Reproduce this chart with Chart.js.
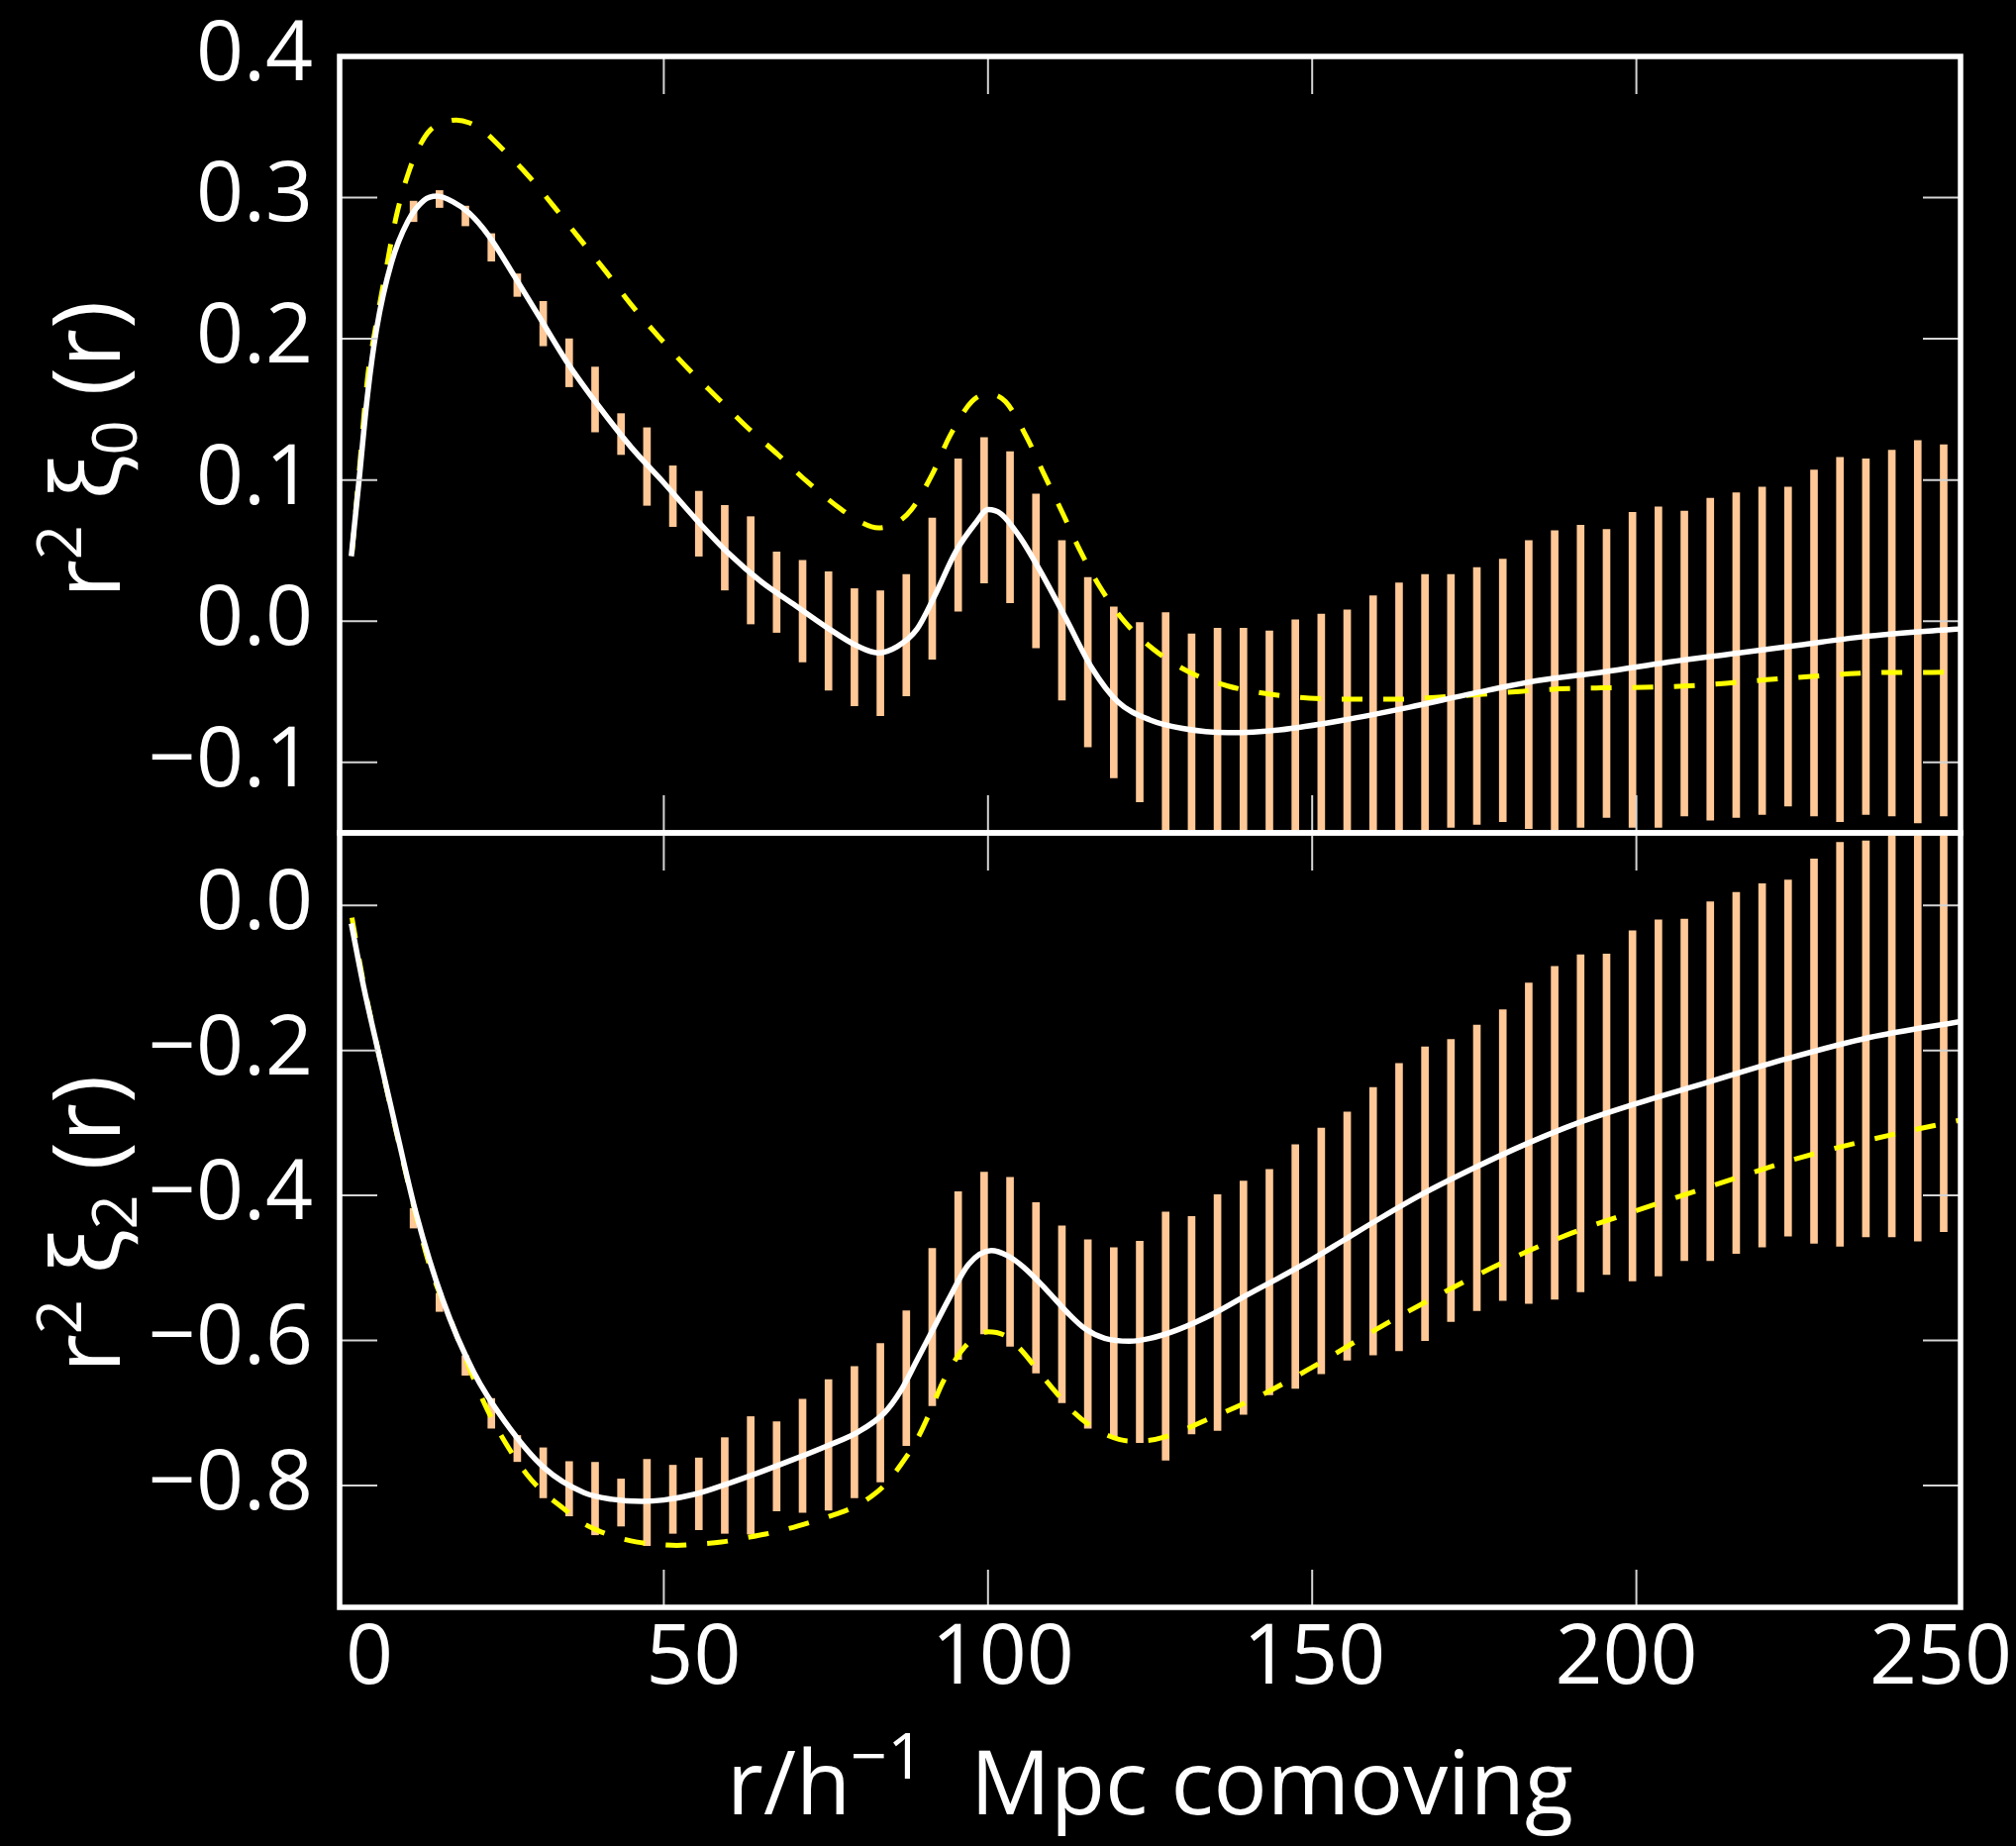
<!DOCTYPE html>
<html>
<head>
<meta charset="utf-8">
<title>r^2 xi_0 and r^2 xi_2</title>
<script src="https://cdn.jsdelivr.net/npm/chart.js@4.4.1/dist/chart.umd.min.js"></script>
<style>
  html, body { margin: 0; padding: 0; background: #000; }
  body { width: 2036px; height: 1864px; position: relative; overflow: hidden; }
  canvas { position: absolute; left: 0; }
  #topPanel { top: 0; }
  #bottomPanel { top: 800px; }
</style>
</head>
<body>
<canvas id="topPanel" width="2036" height="880"></canvas>
<canvas id="bottomPanel" width="2036" height="1064"></canvas>
<script>
// bin centres of the measured points, h^-1 Mpc
const binR = [11.4, 15.4, 19.4, 23.4, 27.4, 31.4, 35.4, 39.4, 43.4, 47.4,
  51.4, 55.4, 59.4, 63.4, 67.4, 71.4, 75.4, 79.4, 83.4, 87.4,
  91.4, 95.4, 99.4, 103.4, 107.4, 111.4, 115.4, 119.4, 123.4, 127.4,
  131.4, 135.4, 139.4, 143.4, 147.4, 151.4, 155.4, 159.4, 163.4, 167.4,
  171.4, 175.4, 179.4, 183.4, 187.4, 191.4, 195.4, 199.4, 203.4, 207.4,
  211.4, 215.4, 219.4, 223.4, 227.4, 231.4, 235.4, 239.4, 243.4, 247.4];

// monopole error bars (low / high end)
const xi0Low = [0.283, 0.293, 0.280, 0.255, 0.230, 0.195, 0.166, 0.134, 0.118, 0.082,
  0.067, 0.046, 0.022, -0.002, -0.008, -0.029, -0.049, -0.060, -0.067, -0.053,
  -0.027, 0.007, 0.027, 0.013, -0.019, -0.056, -0.089, -0.111, -0.128, -0.158,
  -0.148, -0.156, -0.157, -0.149, -0.156, -0.158, -0.149, -0.155, -0.156, -0.152,
  -0.146, -0.144, -0.142, -0.147, -0.148, -0.146, -0.139, -0.146, -0.146, -0.138,
  -0.141, -0.139, -0.137, -0.131, -0.138, -0.142, -0.137, -0.138, -0.143, -0.138];
const xi0High = [0.2975, 0.305, 0.294, 0.2745, 0.246, 0.2265, 0.200, 0.180, 0.147, 0.137,
  0.110, 0.092, 0.082, 0.074, 0.049, 0.043, 0.035, 0.023, 0.0215, 0.033,
  0.073, 0.115, 0.130, 0.120, 0.090, 0.057, 0.031, 0.010, -0.001, 0.006,
  -0.009, -0.005, -0.005, -0.007, 0.001, 0.005, 0.008, 0.018, 0.027, 0.033,
  0.033, 0.038, 0.044, 0.057, 0.064, 0.068, 0.065, 0.077, 0.081, 0.078,
  0.087, 0.091, 0.095, 0.095, 0.107, 0.116, 0.115, 0.121, 0.128, 0.125];

// quadrupole error bars
const xi2Low = [-0.445, -0.560, -0.648, -0.721, -0.767, -0.817, -0.842, -0.868, -0.856, -0.883,
  -0.866, -0.861, -0.866, -0.867, -0.835, -0.837, -0.834, -0.817, -0.795, -0.745,
  -0.690, -0.626, -0.591, -0.608, -0.645, -0.686, -0.721, -0.733, -0.741, -0.765,
  -0.729, -0.724, -0.702, -0.675, -0.666, -0.646, -0.627, -0.620, -0.614, -0.600,
  -0.574, -0.559, -0.545, -0.549, -0.543, -0.533, -0.509, -0.518, -0.511, -0.490,
  -0.490, -0.480, -0.471, -0.456, -0.466, -0.470, -0.457, -0.457, -0.463, -0.450];
const xi2High = [-0.418, -0.535, -0.621, -0.680, -0.731, -0.748, -0.767, -0.768, -0.791, -0.764,
  -0.772, -0.762, -0.734, -0.705, -0.712, -0.681, -0.654, -0.636, -0.604, -0.559,
  -0.473, -0.395, -0.368, -0.375, -0.410, -0.442, -0.461, -0.472, -0.463, -0.423,
  -0.429, -0.399, -0.380, -0.364, -0.330, -0.307, -0.285, -0.251, -0.218, -0.195,
  -0.185, -0.165, -0.144, -0.107, -0.084, -0.068, -0.067, -0.035, -0.020, -0.019,
  0.005, 0.018, 0.030, 0.035, 0.064, 0.087, 0.089, 0.110, 0.120, 0.125];

// white solid model, monopole
const fitR0 = [1.8, 3, 4.3, 5.7, 8, 10.5, 13, 15, 17.5, 20,
  23, 27, 31, 35, 40, 45, 50, 55, 60, 65,
  70, 75, 80, 83, 86, 89, 92, 95, 98, 100,
  102, 105, 108, 112, 116, 120, 125, 130, 137, 145,
  155, 165, 175, 185, 195, 205, 215, 225, 235, 245, 250];
const fit0 = [0.046, 0.10, 0.160, 0.207, 0.254, 0.283, 0.298, 0.301, 0.297, 0.289,
  0.273, 0.244, 0.214, 0.184, 0.152, 0.123, 0.098, 0.072, 0.048, 0.028,
  0.012, -0.004, -0.018, -0.0225, -0.018, -0.006, 0.020, 0.049, 0.069, 0.079,
  0.076, 0.059, 0.036, 0.002, -0.033, -0.057, -0.070, -0.076, -0.079, -0.077,
  -0.070, -0.061, -0.051, -0.042, -0.036, -0.029, -0.023, -0.017, -0.011, -0.007, -0.0055];

// yellow dashed model, monopole
const altR0 = [1.9, 3, 4.3, 5.5, 7, 8.8, 10.8, 12.5, 14, 16,
  18, 20, 22.5, 25, 29, 33, 37, 41, 45, 49.4,
  53.7, 58.3, 62.7, 67.6, 72.3, 77.4, 80, 83.1, 86, 88.2,
  91.4, 94.1, 97.5, 100, 102.7, 106, 108.7, 111.5, 114.2, 117.3,
  121, 125.4, 131, 137, 143.3, 149.6, 156.2, 162.9, 169, 175.6,
  182, 188.2, 194.6, 201, 207.3, 213.8, 220.1, 226.5, 232.9, 239.3, 245.6, 249];
const alt0 = [0.048, 0.105, 0.172, 0.207, 0.245, 0.288, 0.320, 0.338, 0.348, 0.353,
  0.355, 0.353, 0.346, 0.335, 0.316, 0.294, 0.271, 0.248, 0.224, 0.2005,
  0.179, 0.158, 0.138, 0.118, 0.098, 0.079, 0.071, 0.066, 0.070, 0.079,
  0.104, 0.131, 0.1555, 0.161, 0.1555, 0.130, 0.1035, 0.0766, 0.050, 0.024,
  0.000, -0.0195, -0.036, -0.046, -0.0516, -0.0546, -0.0553, -0.0553, -0.054, -0.052,
  -0.0498, -0.048, -0.0473, -0.0469, -0.046, -0.044, -0.0415, -0.0394, -0.0373, -0.0363, -0.0363, -0.0362];

// white solid model, quadrupole
const fitR2 = [1.8, 3.7, 6, 8.8, 11.8, 15.9, 20.7, 25.5, 31.6, 37.7,
  42, 46.6, 50, 54.8, 60, 65, 70, 75, 80, 84,
  86.5, 89, 91.5, 94, 97, 100.5, 103, 105.5, 109, 112.3,
  115, 118, 121.8, 125, 129.3, 135, 140, 145, 150, 155,
  160, 167, 175, 183, 191, 199, 211, 223, 236, 250];
const fit2 = [-0.025, -0.112, -0.203, -0.312, -0.425, -0.544, -0.644, -0.712, -0.776, -0.810,
  -0.819, -0.822, -0.820, -0.812, -0.797, -0.781, -0.764, -0.746, -0.726, -0.700,
  -0.670, -0.628, -0.585, -0.542, -0.495, -0.476, -0.483, -0.499, -0.530, -0.562,
  -0.584, -0.597, -0.601, -0.597, -0.585, -0.562, -0.537, -0.513, -0.488, -0.461,
  -0.434, -0.398, -0.362, -0.329, -0.300, -0.276, -0.244, -0.212, -0.182, -0.160];

// yellow dashed model, quadrupole
const altR2 = [1.9, 3.7, 6, 8.8, 11.8, 14, 17.3, 20, 22.7, 25.5,
  28.9, 31.5, 34.3, 37, 39.8, 43, 45.9, 49, 52, 55,
  58.9, 62, 65.7, 69, 72.5, 76, 79.3, 82, 84.1, 86.5,
  88.9, 91, 93, 96.5, 100, 103, 105.5, 108, 110.9, 113,
  115.7, 118.5, 121.8, 124.5, 127.3, 134.1, 141.6, 149.8, 160, 170,
  180, 190, 200, 214, 226, 239, 250];
const alt2 = [-0.017, -0.108, -0.203, -0.315, -0.428, -0.500, -0.576, -0.638, -0.694, -0.740,
  -0.785, -0.810, -0.830, -0.849, -0.862, -0.872, -0.878, -0.881, -0.8826, -0.881,
  -0.878, -0.873, -0.867, -0.860, -0.851, -0.841, -0.830, -0.815, -0.799, -0.772,
  -0.739, -0.700, -0.658, -0.608, -0.588, -0.595, -0.617, -0.645, -0.676, -0.697,
  -0.717, -0.731, -0.7385, -0.738, -0.733, -0.708, -0.678, -0.638, -0.584, -0.535,
  -0.490, -0.452, -0.421, -0.380, -0.346, -0.317, -0.296];

// axis ticks
const xTicks = [0, 50, 100, 150, 200, 250];
const xTickLabels = ['0', '50', '100', '150', '200', '250'];
const yTicks0 = [-0.1, 0.0, 0.1, 0.2, 0.3, 0.4];
const yTicks2 = [-0.8, -0.6, -0.4, -0.2, 0.0];

const FONT = '"Open Sans", "DejaVu Sans", sans-serif';
const BAR_COLOR = 'rgb(255, 200, 150)';
// the original figure sets its x labels a little off their ticks
const X_LABEL_NUDGE = [30, 30, 15, 2, -10, -20];
Chart.defaults.font.family = FONT;
Chart.defaults.color = '#ffffff';

function toPoints(xs, ys) {
  return xs.map((x, i) => ({x: x, y: ys[i]}));
}
function toBars(xs, lo, hi) {
  return xs.map((x, i) => ({x: x, y: [lo[i], hi[i]]}));
}
function fmtY(v) {
  return (v < 0 ? '\u2212' : '') + Math.abs(v).toFixed(1);
}

// text with super/subscripts, centred on (cx, cy)
function drawRich(ctx, parts, cx, cy, size, rotate, supScale) {
  ctx.save();
  ctx.translate(cx, cy);
  if (rotate) ctx.rotate(-Math.PI / 2);
  ctx.fillStyle = '#ffffff';
  ctx.textAlign = 'left';
  ctx.textBaseline = 'alphabetic';
  const k = supScale || 0.64;
  const runs = parts.map(([text, kind]) => {
    const s = kind ? size * k : size;
    ctx.font = s + 'px ' + FONT;
    return {text: text, kind: kind, s: s, w: ctx.measureText(text).width};
  });
  const total = runs.reduce((t, r) => t + r.w, 0);
  let x = -total / 2;
  const base = size * 0.36;
  runs.forEach(r => {
    ctx.font = r.s + 'px ' + FONT;
    const dy = r.kind === 'sup' ? -size * 0.40 : (r.kind === 'sub' ? size * 0.18 : 0);
    ctx.fillText(r.text, x, base + dy);
    x += r.w;
  });
  ctx.restore();
}

// box with inward tick marks on all four sides
const panelFrame = {
  id: 'panelFrame',
  afterDatasetsDraw(chart) {
    const {ctx, chartArea: a, scales} = chart;
    const xs = scales.x, ys = scales.y;
    const len = 38;
    ctx.save();
    ctx.strokeStyle = '#d4d4d4';
    ctx.lineWidth = 2;
    ctx.beginPath();
    xs.ticks.forEach(t => {
      const px = xs.getPixelForValue(t.value);
      ctx.moveTo(px, a.top); ctx.lineTo(px, a.top + len);
      ctx.moveTo(px, a.bottom); ctx.lineTo(px, a.bottom - len);
    });
    ys.ticks.forEach(t => {
      const py = ys.getPixelForValue(t.value);
      ctx.moveTo(a.left, py); ctx.lineTo(a.left + len, py);
      ctx.moveTo(a.right, py); ctx.lineTo(a.right - len, py);
    });
    ctx.stroke();
    ctx.strokeStyle = '#ffffff';
    ctx.lineWidth = 5.5;
    ctx.strokeRect(a.left, a.top, a.right - a.left, a.bottom - a.top);
    ctx.restore();
  }
};

// axis titles and the bottom x labels
const richTitles = {
  id: 'richTitles',
  afterDraw(chart, args, opts) {
    const {ctx, chartArea: a, scales} = chart;
    (opts.items || []).forEach(it => {
      const cx = it.x != null ? it.x : (a.left + a.right) / 2;
      const cy = it.y != null ? it.y : (a.top + a.bottom) / 2 + (it.dy || 0);
      drawRich(ctx, it.parts, cx, cy, it.size, it.rotate, it.supScale);
    });
    if (opts.xLabels) {
      ctx.save();
      ctx.fillStyle = '#ffffff';
      ctx.font = '84px ' + FONT;
      ctx.textAlign = 'center';
      ctx.textBaseline = 'middle';
      xTicks.forEach((v, i) => {
        const px = scales.x.getPixelForValue(v) + X_LABEL_NUDGE[i];
        ctx.fillText(xTickLabels[i], px, a.bottom + opts.xLabels.gap);
      });
      ctx.restore();
    }
  }
};

function makePanel(canvasId, cfg) {
  return new Chart(document.getElementById(canvasId), {
    type: 'line',
    data: {
      datasets: [
        {
          label: 'model',
          data: toPoints(cfg.fitR, cfg.fit),
          borderColor: '#ffffff',
          borderWidth: 5.5,
          pointRadius: 0,
          cubicInterpolationMode: 'monotone',
          fill: false,
          order: 1
        },
        {
          label: 'alternative',
          data: toPoints(cfg.altR, cfg.alt),
          borderColor: '#ffff00',
          borderWidth: 5,
          borderDash: [21, 21],
          pointRadius: 0,
          cubicInterpolationMode: 'monotone',
          fill: false,
          order: 2
        },
        {
          type: 'bar',
          label: 'data',
          data: toBars(binR, cfg.lo, cfg.hi),
          backgroundColor: BAR_COLOR,
          borderWidth: 0,
          barThickness: 7,
          grouped: false,
          clip: 0,
          order: 3
        }
      ]
    },
    options: {
      responsive: false,
      animation: false,
      events: [],
      layout: {padding: cfg.padding},
      plugins: {
        legend: {display: false},
        tooltip: {enabled: false},
        richTitles: {items: cfg.titles, xLabels: cfg.xLabels}
      },
      scales: {
        x: {
          type: 'linear',
          min: 0,
          max: 250,
          offset: false,
          display: cfg.showX,
          grid: {display: false},
          border: {display: false},
          afterBuildTicks: s => { s.ticks = xTicks.map(v => ({value: v})); },
          afterFit: s => { s.height = cfg.showX ? cfg.xHeight : 0; s.paddingLeft = 0; s.paddingRight = 0; },
          ticks: {display: false}
        },
        y: {
          type: 'linear',
          min: cfg.yMin,
          max: cfg.yMax,
          grid: {display: false},
          border: {display: false},
          afterBuildTicks: s => { s.ticks = cfg.yTicks.map(v => ({value: v})); },
          afterFit: s => { s.width = 343; s.paddingTop = 0; s.paddingBottom = 0; },
          ticks: {
            autoSkip: false,
            padding: 19,
            color: '#ffffff',
            font: {size: 84},
            callback: v => fmtY(v)
          }
        }
      }
    },
    plugins: [panelFrame, richTitles]
  });
}

makePanel('topPanel', {
  fitR: fitR0, fit: fit0, altR: altR0, alt: alt0, lo: xi0Low, hi: xi0High,
  yMin: -0.15, yMax: 0.4, yTicks: yTicks0,
  showX: false, xHeight: 0,
  padding: {top: 57, right: 56, bottom: 39, left: 0},
  titles: [
    {parts: [['r', ''], ['2', 'sup'], [' \u03be', ''], ['0', 'sub'], [' (r)', '']], x: 86, dy: 5, size: 96, rotate: true}
  ]
});

makePanel('bottomPanel', {
  fitR: fitR2, fit: fit2, altR: altR2, alt: alt2, lo: xi2Low, hi: xi2High,
  yMin: -0.968, yMax: 0.1, yTicks: yTicks2,
  showX: true, xHeight: 241,
  padding: {top: 41, right: 56, bottom: 0, left: 0},
  xLabels: {gap: 53},
  titles: [
    {parts: [['r', ''], ['2', 'sup'], [' \u03be', ''], ['2', 'sub'], [' (r)', '']], x: 86, dy: 4, size: 96, rotate: true},
    {parts: [['r/h', ''], ['\u22121', 'sup'], ['  Mpc comoving', '']], y: 1000, size: 90, rotate: false, supScale: 0.72}
  ]
});
</script>
</body>
</html>
